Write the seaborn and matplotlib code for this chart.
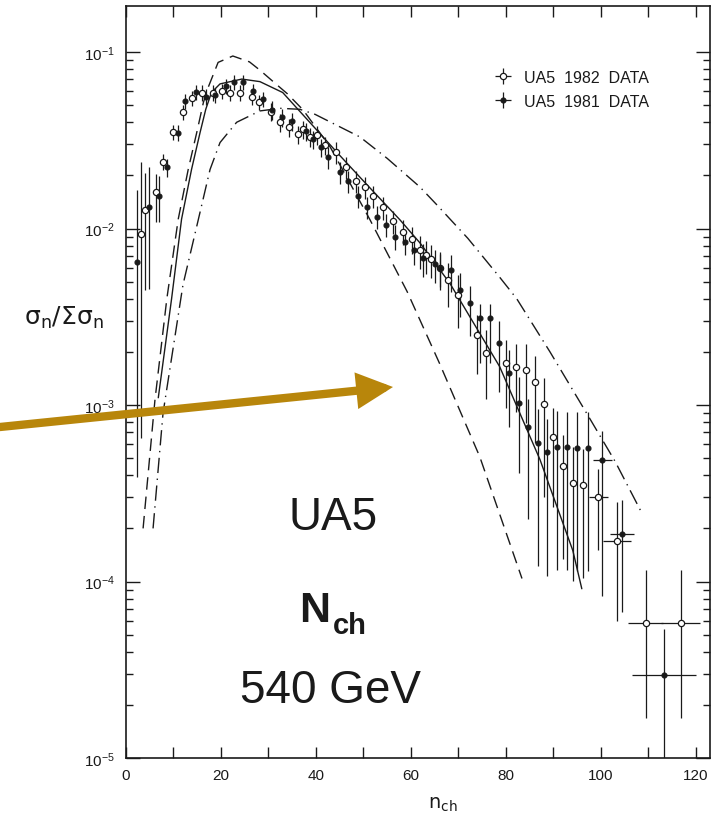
import numpy as np
import matplotlib
matplotlib.use("Agg")
import matplotlib.pyplot as plt
import seaborn as sns
from matplotlib.ticker import MultipleLocator, LogLocator, NullFormatter
from matplotlib.patches import FancyArrowPatch

# ---------------------------------------------------------
# UA5 1982 data (open circles)
# ---------------------------------------------------------
x_82 = [3.2, 4.0, 6.3, 7.8, 9.9, 12.0, 13.9, 16.0, 18.3, 20.2, 22.0, 24.0, 26.5, 28.0,
        30.5, 32.4, 34.3, 36.2, 37.3, 38.7, 40.2, 41.9, 44.2, 46.3, 48.4, 50.3, 52.0,
        54.1, 56.2, 58.3, 60.2, 62.0, 63.2, 64.2, 66.1, 67.8, 70.0, 73.9, 75.8, 80.0,
        82.1, 84.2, 86.1, 88.0, 89.9, 92.0, 94.1, 96.2, 99.5, 103.4, 109.5, 116.8]
y_82 = [0.0093, 0.0128, 0.0162, 0.0237, 0.0351, 0.0457, 0.0548, 0.059, 0.059, 0.060,
        0.059, 0.059, 0.056, 0.052, 0.046, 0.040, 0.0375, 0.0342, 0.0365, 0.033, 0.0339,
        0.0296, 0.027, 0.0222, 0.0185, 0.0171, 0.0152, 0.0132, 0.011, 0.0096, 0.0087,
        0.0076, 0.0071, 0.0067, 0.006, 0.0051, 0.0042, 0.0025, 0.00197, 0.00174, 0.00165,
        0.00158, 0.00135, 0.00101, 0.00066, 0.00045, 0.00036, 0.00035, 0.0003, 0.00017,
        5.8e-5, 5.8e-5]
up_82 = [1.55, 0.62, 0.25, 0.12, 0.1, 0.1, 0.1, 0.1, 0.1, 0.1, 0.1, 0.1, 0.1, 0.1,
         0.12, 0.12, 0.12, 0.12, 0.12, 0.12, 0.12, 0.12, 0.14, 0.14, 0.14, 0.14, 0.14,
         0.15, 0.15, 0.16, 0.18, 0.2, 0.2, 0.2, 0.22, 0.25, 0.3, 0.3, 0.35, 0.35,
         0.35, 0.4, 0.4, 0.4, 0.45, 0.5, 0.6, 0.6, 0.45, 0.65, 1.0, 1.0]
dn_82 = [0.93, 0.65, 0.33, 0.1, 0.1, 0.1, 0.1, 0.1, 0.1, 0.1, 0.1, 0.1, 0.1, 0.1,
         0.12, 0.12, 0.12, 0.12, 0.12, 0.12, 0.12, 0.12, 0.14, 0.14, 0.14, 0.14, 0.14,
         0.15, 0.15, 0.16, 0.18, 0.22, 0.22, 0.22, 0.25, 0.3, 0.35, 0.4, 0.45, 0.45,
         0.45, 0.5, 0.55, 0.7, 0.6, 0.7, 0.72, 0.7, 0.5, 0.65, 0.71, 0.71]
xe_82 = [0] * 48 + [2.0, 3.0, 3.7, 4.1]

# ---------------------------------------------------------
# UA5 1981 data (filled circles)
# ---------------------------------------------------------
x_81 = [2.3, 4.8, 7.0, 8.6, 11.0, 12.4, 14.7, 16.8, 18.7, 21.0, 22.7, 24.6, 26.8, 28.8,
        30.7, 32.8, 35.0, 38.0, 39.3, 41.0, 42.5, 45.0, 46.7, 48.8, 50.7, 52.8, 54.7,
        56.6, 58.7, 60.6, 62.5, 65.0, 66.1, 68.4, 70.3, 72.4, 74.5, 76.6, 78.5, 80.6,
        82.7, 84.6, 86.7, 88.6, 90.7, 92.8, 94.9, 97.3, 100.3, 104.4, 113.3]
y_81 = [0.0065, 0.0133, 0.0152, 0.0222, 0.035, 0.0527, 0.0592, 0.056, 0.057, 0.064,
        0.0676, 0.0676, 0.060, 0.054, 0.047, 0.0427, 0.0405, 0.0355, 0.032, 0.0288,
        0.0253, 0.0209, 0.0185, 0.0152, 0.0132, 0.0117, 0.0105, 0.009, 0.0084, 0.0076,
        0.0068, 0.0063, 0.006, 0.0058, 0.0045, 0.0038, 0.0031, 0.0031, 0.00225, 0.00151,
        0.00103, 0.00075, 0.00061, 0.00054, 0.00058, 0.00058, 0.00057, 0.00057, 0.00049,
        0.000187, 2.95e-5]
up_81 = [1.55, 0.67, 0.3, 0.12, 0.1, 0.1, 0.1, 0.1, 0.1, 0.1, 0.1, 0.1, 0.1, 0.1,
         0.12, 0.12, 0.12, 0.12, 0.12, 0.12, 0.14, 0.14, 0.14, 0.14, 0.14, 0.15, 0.15,
         0.16, 0.16, 0.18, 0.2, 0.2, 0.2, 0.22, 0.25, 0.25, 0.2, 0.2, 0.33, 0.35,
         0.4, 0.45, 0.55, 0.55, 0.6, 0.58, 0.6, 0.6, 0.45, 0.55, 0.83]
dn_81 = [0.94, 0.66, 0.28, 0.12, 0.1, 0.1, 0.1, 0.1, 0.1, 0.1, 0.1, 0.1, 0.1, 0.1,
         0.12, 0.12, 0.12, 0.12, 0.12, 0.12, 0.14, 0.14, 0.14, 0.14, 0.14, 0.15, 0.15,
         0.16, 0.16, 0.18, 0.22, 0.22, 0.22, 0.25, 0.3, 0.35, 0.44, 0.44, 0.47, 0.5,
         0.6, 0.7, 0.8, 0.8, 0.8, 0.8, 0.8, 0.8, 0.83, 0.64, 0.95]
xe_81 = [0] * 48 + [2.0, 2.5, 6.8]

# ---------------------------------------------------------
# model curves
# ---------------------------------------------------------
x_dash = [3.6, 6.1, 8.6, 11.0, 13.1, 14.9, 16.3, 17.3, 19.4, 22.5, 26.0, 28.2, 31.0,
          34.0, 37.3, 43.0, 51.4, 59.2, 66.0, 74.5, 83.4]
y_dash = [2.0e-4, 1.07e-3, 0.0040, 0.0113, 0.0216, 0.035, 0.0518, 0.063, 0.0874, 0.095,
          0.088, 0.079, 0.068, 0.058, 0.047, 0.029, 0.0112, 0.0044, 0.00173, 5.1e-4, 1.04e-4]

x_solid = [6.8, 9.6, 11.7, 13.8, 15.6, 16.8, 18.0, 19.8, 24.4, 28.2, 33.0, 38.7, 45.0,
           49.3, 57.7, 61.9, 68.2, 78.7, 87.2, 94.1, 96.0]
y_solid = [1.1e-3, 0.0040, 0.0113, 0.0216, 0.035, 0.0474, 0.059, 0.066, 0.0703, 0.068,
           0.059, 0.040, 0.026, 0.0195, 0.0112, 0.0083, 0.0049, 0.00165, 4.9e-4, 1.5e-4, 9.1e-5]

x_dot = [5.7, 7.8, 12.0, 14.9, 17.7, 19.8, 23.3, 28.2, 32.5, 36.6, 39.8, 49.3, 55.0,
         61.9, 65.5, 72.0, 78.7, 82.3, 89.3, 97.0, 103.0, 108.8]
y_dot = [2.0e-4, 9.0e-4, 0.0048, 0.0103, 0.0216, 0.0307, 0.040, 0.0464, 0.048, 0.0474,
         0.0444, 0.033, 0.025, 0.0172, 0.0136, 0.0088, 0.0053, 0.0040, 0.0020, 9.0e-4,
         4.8e-4, 2.4e-4]

# ---------------------------------------------------------
# figure
# ---------------------------------------------------------
sns.set_theme(style="ticks")
plt.rcParams['font.family'] = ['Liberation Sans', 'DejaVu Sans']
plt.rcParams['mathtext.default'] = 'regular'
plt.rcParams['text.color'] = 'k'

fig = plt.figure(figsize=(7.19, 8.2), dpi=100)
ax = fig.add_axes([126 / 719, 61 / 820, 584 / 719, 752 / 820])
ax.set_yscale("log")

lw = 1.0
sns.lineplot(x=x_dash, y=y_dash, ax=ax, color="k", lw=lw, linestyle=(0, (9, 5)))
sns.lineplot(x=x_solid, y=y_solid, ax=ax, color="k", lw=lw)
sns.lineplot(x=x_dot, y=y_dot, ax=ax, color="k", lw=lw, linestyle=(0, (11, 4, 1, 4)))


def draw(x, y, up, dn, xe, open_marker):
    x = np.array(x); y = np.array(y)
    yerr = [y * np.array(dn), y * np.array(up)]
    kw = dict(fmt="o", color="k", ecolor="k", elinewidth=0.9, capsize=0, mew=0.9)
    if open_marker:
        kw.update(ms=4.5, mfc="white", mec="k")
    else:
        kw.update(ms=3.5, mfc="k", mec="k")
    return ax.errorbar(x, y, yerr=yerr, xerr=xe, **kw)


eb82 = draw(x_82, y_82, up_82, dn_82, xe_82, True)
eb81 = draw(x_81, y_81, up_81, dn_81, xe_81, False)

ax.set_xlim(0, 123)
ax.set_ylim(1e-5, 0.1824)

ax.xaxis.set_major_locator(MultipleLocator(20))
ax.xaxis.set_minor_locator(MultipleLocator(10))
ax.yaxis.set_major_locator(LogLocator(base=10))
ax.yaxis.set_minor_locator(LogLocator(base=10, subs=np.arange(2, 10)))
ax.yaxis.set_minor_formatter(NullFormatter())
ax.tick_params(which="both", direction="in", top=True, right=True, width=1.0,
               labelsize=11, colors="k")
ax.tick_params(axis="x", which="both", length=8, pad=7)
ax.tick_params(axis="y", which="major", length=10, pad=8)
ax.tick_params(axis="y", which="minor", length=5)
for s in ax.spines.values():
    s.set_linewidth(1.2)
    s.set_color("k")

leg = ax.legend([eb82, eb81], ["UA5  1982  DATA", "UA5  1981  DATA"],
                loc="upper left", bbox_to_anchor=(0.635, 0.915), frameon=False,
                fontsize=11.5, handlelength=0.8, handletextpad=0.9, labelspacing=0.55,
                borderpad=0, borderaxespad=0)
for t in leg.get_texts():
    t.set_color("k")

# axis labels
fig.text(64 / 719, 1 - 318 / 820, r"$\sigma_n/\Sigma\sigma_n$", ha="center", va="center",
         fontsize=18, family="DejaVu Sans", color="k")
fig.text(443 / 719, 1 - 805 / 820, r"$n_{ch}$", ha="center", va="center", fontsize=14,
         family="DejaVu Sans", color="k")

# big annotations
fig.text(333 / 719, 1 - 518 / 820, "UA5", ha="center", va="center", fontsize=33, color="k")
fig.text(299 / 719, 1 - 622 / 820, "N", ha="left", va="baseline", fontsize=31,
         fontweight="bold", color="k")
fig.text(333 / 719, 1 - 634 / 820, "ch", ha="left", va="baseline", fontsize=21,
         fontweight="bold", color="k")
fig.text(331 / 719, 1 - 691 / 820, "540 GeV", ha="center", va="center", fontsize=33,
         color="k")

# golden arrow
arr = FancyArrowPatch((0, 1 - 428 / 820), (393 / 719, 1 - 388 / 820),
                      transform=fig.transFigure,
                      arrowstyle="-|>,head_length=1.2,head_width=0.6",
                      mutation_scale=14, lw=6, color="#B8860B", shrinkA=0, shrinkB=0,
                      joinstyle="miter")
fig.patches.append(arr)

fig.savefig("out.png", dpi=100)
